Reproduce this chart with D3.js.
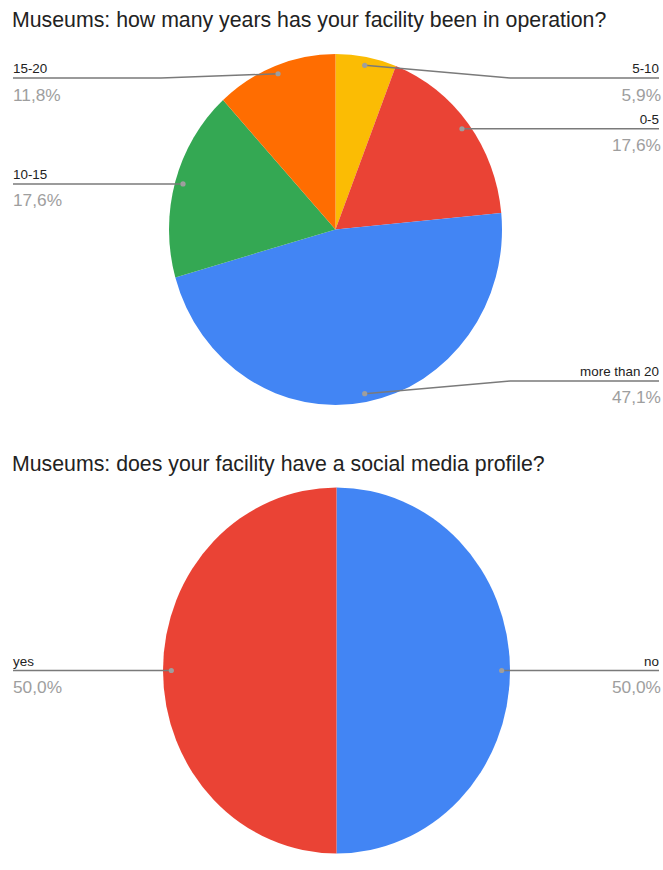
<!DOCTYPE html>
<html>
<head>
<meta charset="utf-8">
<script src="https://cdn.jsdelivr.net/npm/d3@7"></script>
<style>
  html, body { margin: 0; padding: 0; background: #fff; }
  svg { display: block; font-family: "Liberation Sans", Arial, sans-serif; }
</style>
</head>
<body>
<svg id="chart" width="663" height="870"></svg>
<script>
// Survey answers, in clockwise order from 12 o'clock (percent of respondents)
const yearsTitle = "Museums: how many years has your facility been in operation?";
const yearsCategories = ["5-10", "0-5", "more than 20", "10-15", "15-20"];
const yearsShares = [5.9, 17.6, 47.1, 17.6, 11.8];
const yearsColors = ["#FBBC04", "#EA4335", "#4285F4", "#34A853", "#FF6D01"];

const socialTitle = "Museums: does your facility have a social media profile?";
const socialCategories = ["no", "yes"];
const socialShares = [50.0, 50.0];
const socialColors = ["#4285F4", "#EA4335"];

const svg = d3.select("#chart");
const fmtPct = v => v.toFixed(1).replace(".", ",") + "%";

function drawPie(box, title, cats, vals, colors) {
  const { cx, cy, rx, ry, titleY } = box;

  svg.append("text")
    .attr("x", 12).attr("y", titleY)
    .attr("font-size", "21.3px")
    .attr("fill", "#222")
    .text(title);

  const pie = d3.pie().sort(null).value(d => d.v)
    .startAngle(0).endAngle(2 * Math.PI);
  const data = pie(cats.map((c, i) => ({ c, v: vals[i], color: colors[i] })));
  const arc = d3.arc().innerRadius(0).outerRadius(rx);

  svg.append("g")
    .attr("transform", `translate(${cx},${cy}) scale(1,${ry / rx})`)
    .selectAll("path")
    .data(data)
    .join("path")
    .attr("d", arc)
    .attr("fill", d => d.data.color);

  const yMin = cy - 0.863 * ry, yMax = cy + 0.863 * ry;
  const labels = svg.append("g");

  data.forEach(d => {
    const mid = (d.startAngle + d.endAngle) / 2;
    const dx = cx + 0.952 * rx * Math.sin(mid);
    const dy = cy - 0.952 * ry * Math.cos(mid);
    const right = Math.sin(mid) >= 0;
    const lineY = Math.max(yMin, Math.min(yMax, dy));
    const bendX = right ? cx + rx + 8 : cx - rx - 8;
    const endX = right ? 659 : 13;

    labels.append("path")
      .attr("d", `M${dx},${dy}L${bendX},${lineY}L${endX},${lineY}`)
      .attr("fill", "none")
      .attr("stroke", "#7a7a7a")
      .attr("stroke-width", 1.5);

    labels.append("circle")
      .attr("cx", dx).attr("cy", dy).attr("r", 2.6)
      .attr("fill", "#9e9e9e");

    labels.append("text")
      .attr("x", endX).attr("y", lineY - 5)
      .attr("text-anchor", right ? "end" : "start")
      .attr("font-size", "13.4px")
      .attr("fill", "#222")
      .text(d.data.c);

    labels.append("text")
      .attr("x", right ? endX + 2 : endX).attr("y", lineY + 22.5)
      .attr("text-anchor", right ? "end" : "start")
      .attr("font-size", "17.3px")
      .attr("fill", "#9e9e9e")
      .text(fmtPct(d.data.v));
  });
}

drawPie({ cx: 335.5, cy: 229.5, rx: 166.5, ry: 175.5, titleY: 27 },
        yearsTitle, yearsCategories, yearsShares, yearsColors);
drawPie({ cx: 336.5, cy: 670.5, rx: 173.5, ry: 183, titleY: 471 },
        socialTitle, socialCategories, socialShares, socialColors);
</script>
</body>
</html>
